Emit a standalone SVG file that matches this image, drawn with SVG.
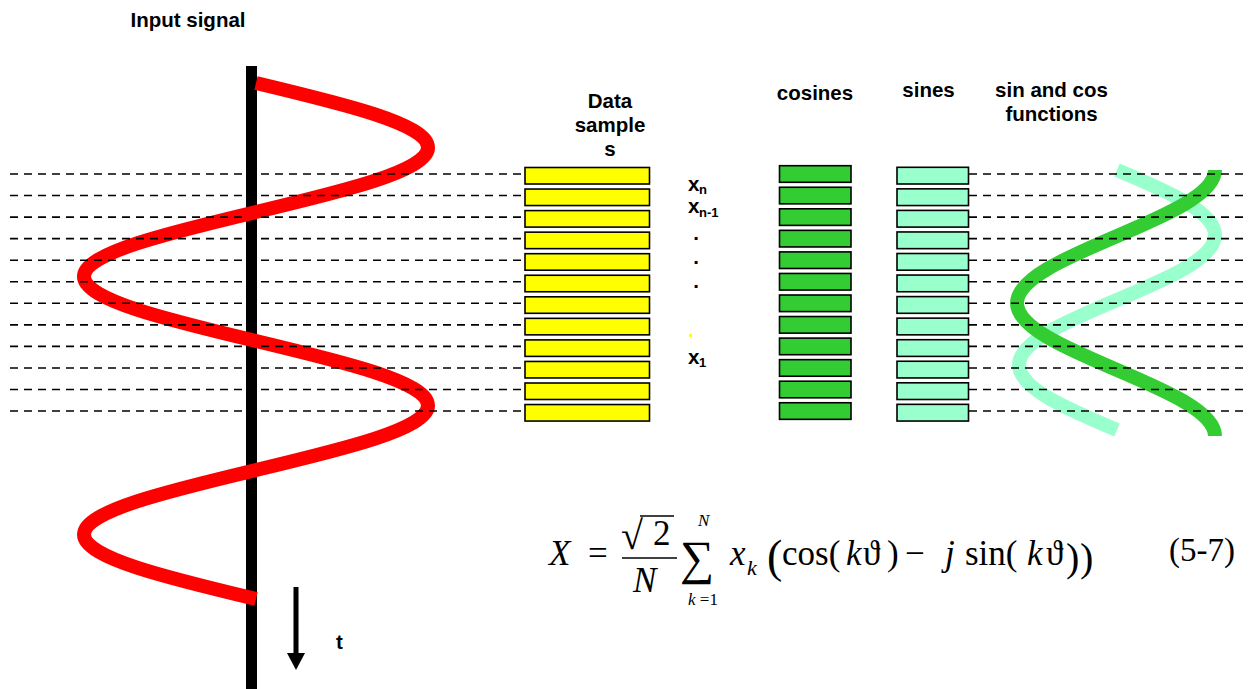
<svg xmlns="http://www.w3.org/2000/svg" width="1249" height="689" viewBox="0 0 1249 689">
<style>
.h{font-family:"Liberation Sans",Arial,sans-serif;font-weight:bold;font-size:20.5px;fill:#000;text-anchor:middle}
.lb{font-family:"Liberation Sans",Arial,sans-serif;font-weight:bold;font-size:20.5px;fill:#000}
.sb{font-family:"Liberation Sans",Arial,sans-serif;font-weight:bold;font-size:13px;fill:#000}
.m{font-family:"Liberation Serif","Times New Roman",serif;font-size:35px;fill:#000}
.i{font-style:italic}
.y{fill:#FFFF00;stroke:#000;stroke-width:1.6}
.c{fill:#33CC33;stroke:#000;stroke-width:1.6}
.s{fill:#99FFCC;stroke:#000;stroke-width:1.6}
.dash{fill:none;stroke:#000;stroke-width:1.6;stroke-dasharray:8 6}
</style>
<rect width="1249" height="689" fill="#fff"/>
<text class="h" x="188" y="27">Input signal</text>
<g id="axis"><rect x="246" y="66" width="11" height="623" fill="#000"/></g>
<g id="input-wave"><path fill="none" stroke="#FF0000" stroke-width="14" d="M256 83 C344.1 104.03,428 124.16,428 147.5 C428 170.84,344.1 190.97,256 212 C167.9 233.03,84 253.16,84 276.5 C84 299.84,167.9 319.97,256 341 C344.1 362.03,428 382.16,428 405.5 C428 428.84,344.1 448.97,256 470 C167.9 491.03,84 511.16,84 534.5 C84 557.84,167.9 577.97,256 599"/></g>
<g id="sin-wave"><path fill="none" stroke="#99FFCC" stroke-width="14" d="M1117 170 C1167.2 191.2,1215 211.48,1215 235 C1215 258.52,1167.2 278.8,1117 300 C1066.8 321.2,1019 341.48,1019 365 C1019 388.52,1066.8 408.8,1117 430"/></g>
<g id="cos-wave"><path fill="none" stroke="#33CC33" stroke-width="14" d="M1215 170 C1215 194.06,1166.7 214.81,1116 236.5 C1065.3 258.19,1017 278.94,1017 303 C1017 327.06,1065.3 347.81,1116 369.5 C1166.7 391.19,1215 411.94,1215 436"/></g>
<g id="connectors">
<path class="dash" d="M10 174H242M261 174H524M969 174H1249 M10 195.55H242M261 195.55H524M969 195.55H1249 M10 217.1H242M261 217.1H524M969 217.1H1249 M10 238.65H242M261 238.65H524M969 238.65H1249 M10 260.2H242M261 260.2H524M969 260.2H1249 M10 281.75H242M261 281.75H524M969 281.75H1249 M10 303.3H242M261 303.3H524M969 303.3H1249 M10 324.85H242M261 324.85H524M969 324.85H1249 M10 346.4H242M261 346.4H524M969 346.4H1249 M10 367.95H242M261 367.95H524M969 367.95H1249 M10 389.5H242M261 389.5H524M969 389.5H1249 M10 411.05H242M261 411.05H524M969 411.05H1249"/>
<rect x="293.5" y="587" width="5" height="68" fill="#000"/>
<polygon points="287,653 305,653 296,670" fill="#000"/>
</g>
<text class="lb" x="336" y="649">t</text>
<g id="data-samples">
<text class="h" x="610" y="108">Data</text>
<text class="h" x="610" y="132">sample</text>
<text class="h" x="610" y="156">s</text>
<g id="x12"><rect class="y" x="525" y="167.5" width="124.5" height="16.5"/></g>
<g id="x11"><rect class="y" x="525" y="189.05" width="124.5" height="16.5"/></g>
<g id="x10"><rect class="y" x="525" y="210.6" width="124.5" height="16.5"/></g>
<g id="x9"><rect class="y" x="525" y="232.15" width="124.5" height="16.5"/></g>
<g id="x8"><rect class="y" x="525" y="253.7" width="124.5" height="16.5"/></g>
<g id="x7"><rect class="y" x="525" y="275.25" width="124.5" height="16.5"/></g>
<g id="x6"><rect class="y" x="525" y="296.8" width="124.5" height="16.5"/></g>
<g id="x5"><rect class="y" x="525" y="318.35" width="124.5" height="16.5"/></g>
<g id="x4"><rect class="y" x="525" y="339.9" width="124.5" height="16.5"/></g>
<g id="x3"><rect class="y" x="525" y="361.45" width="124.5" height="16.5"/></g>
<g id="x2"><rect class="y" x="525" y="383" width="124.5" height="16.5"/></g>
<g id="x1"><rect class="y" x="525" y="404.55" width="124.5" height="16.5"/></g>
</g>
<g id="labels">
<text class="lb" x="688" y="190.5">x</text><text class="sb" x="699" y="193.5">n</text>
<text class="lb" x="688" y="213.3">x</text><text class="sb" x="699" y="216.5">n-1</text>
<text class="lb" x="693.2" y="239.5">.</text>
<text class="lb" x="693.2" y="263.5">.</text>
<text class="lb" x="693.2" y="287.5">.</text>
<text class="lb" x="688" y="336.5" style="fill:#FFFF00">.</text>
<text class="lb" x="688" y="363.5">x</text><text class="sb" x="699" y="366.5">1</text>
</g>
<g id="cosines">
<text class="h" x="815" y="100">cosines</text>
<g id="c12"><rect class="c" x="779.5" y="165.7" width="71.5" height="16.6"/></g>
<g id="c11"><rect class="c" x="779.5" y="187.25" width="71.5" height="16.6"/></g>
<g id="c10"><rect class="c" x="779.5" y="208.8" width="71.5" height="16.6"/></g>
<g id="c9"><rect class="c" x="779.5" y="230.35" width="71.5" height="16.6"/></g>
<g id="c8"><rect class="c" x="779.5" y="251.9" width="71.5" height="16.6"/></g>
<g id="c7"><rect class="c" x="779.5" y="273.45" width="71.5" height="16.6"/></g>
<g id="c6"><rect class="c" x="779.5" y="295" width="71.5" height="16.6"/></g>
<g id="c5"><rect class="c" x="779.5" y="316.55" width="71.5" height="16.6"/></g>
<g id="c4"><rect class="c" x="779.5" y="338.1" width="71.5" height="16.6"/></g>
<g id="c3"><rect class="c" x="779.5" y="359.65" width="71.5" height="16.6"/></g>
<g id="c2"><rect class="c" x="779.5" y="381.2" width="71.5" height="16.6"/></g>
<g id="c1"><rect class="c" x="779.5" y="402.75" width="71.5" height="16.6"/></g>
</g>
<g id="sines">
<text class="h" x="928.5" y="96.5">sines</text>
<g id="s12"><rect class="s" x="897" y="167.3" width="71.5" height="16.7"/></g>
<g id="s11"><rect class="s" x="897" y="188.85" width="71.5" height="16.7"/></g>
<g id="s10"><rect class="s" x="897" y="210.4" width="71.5" height="16.7"/></g>
<g id="s9"><rect class="s" x="897" y="231.95" width="71.5" height="16.7"/></g>
<g id="s8"><rect class="s" x="897" y="253.5" width="71.5" height="16.7"/></g>
<g id="s7"><rect class="s" x="897" y="275.05" width="71.5" height="16.7"/></g>
<g id="s6"><rect class="s" x="897" y="296.6" width="71.5" height="16.7"/></g>
<g id="s5"><rect class="s" x="897" y="318.15" width="71.5" height="16.7"/></g>
<g id="s4"><rect class="s" x="897" y="339.7" width="71.5" height="16.7"/></g>
<g id="s3"><rect class="s" x="897" y="361.25" width="71.5" height="16.7"/></g>
<g id="s2"><rect class="s" x="897" y="382.8" width="71.5" height="16.7"/></g>
<g id="s1"><rect class="s" x="897" y="404.35" width="71.5" height="16.7"/></g>
</g>
<text class="h" x="1051.5" y="96.5">sin and cos</text>
<text class="h" x="1051.5" y="120.5">functions</text>
<g id="formula">
<text class="m i" x="549" y="565">X</text>
<text class="m" x="588" y="565">=</text>
<text class="m" x="621" y="549" style="font-size:40px">√</text>
<line x1="640" y1="516" x2="674" y2="516" stroke="#000" stroke-width="1.6"/>
<text class="m" x="653" y="545">2</text>
<line x1="622" y1="558" x2="677" y2="558" stroke="#000" stroke-width="1.6"/>
<text class="m i" x="633" y="591.5">N</text>
<text class="m" x="680" y="574" style="font-size:48px">∑</text>
<text class="m i" x="698" y="526" style="font-size:17px">N</text>
<text class="m" x="688" y="605" style="font-size:17px"><tspan class="i">k</tspan> =1</text>
<text class="m i" x="730" y="565">x</text>
<text class="m i" x="747" y="575" style="font-size:22px">k</text>
<text class="m" x="767" y="572" style="font-size:46px">(</text>
<text class="m" x="782" y="565">cos(</text>
<text class="m i" x="846" y="565">k</text>
<text class="m" x="863" y="565">ϑ</text>
<text class="m" x="887" y="565">)</text>
<text class="m" x="905" y="565">−</text>
<text class="m i" x="945" y="565">j</text>
<text class="m" x="965" y="565">sin(</text>
<text class="m i" x="1027" y="565">k</text>
<text class="m" x="1046" y="565">ϑ</text>
<text class="m" x="1066" y="571" style="font-size:40px">)</text>
<text class="m" x="1080" y="571" style="font-size:40px">)</text>
<text class="m" x="1169" y="561" style="font-size:33px">(5-7)</text>
</g>
</svg>
